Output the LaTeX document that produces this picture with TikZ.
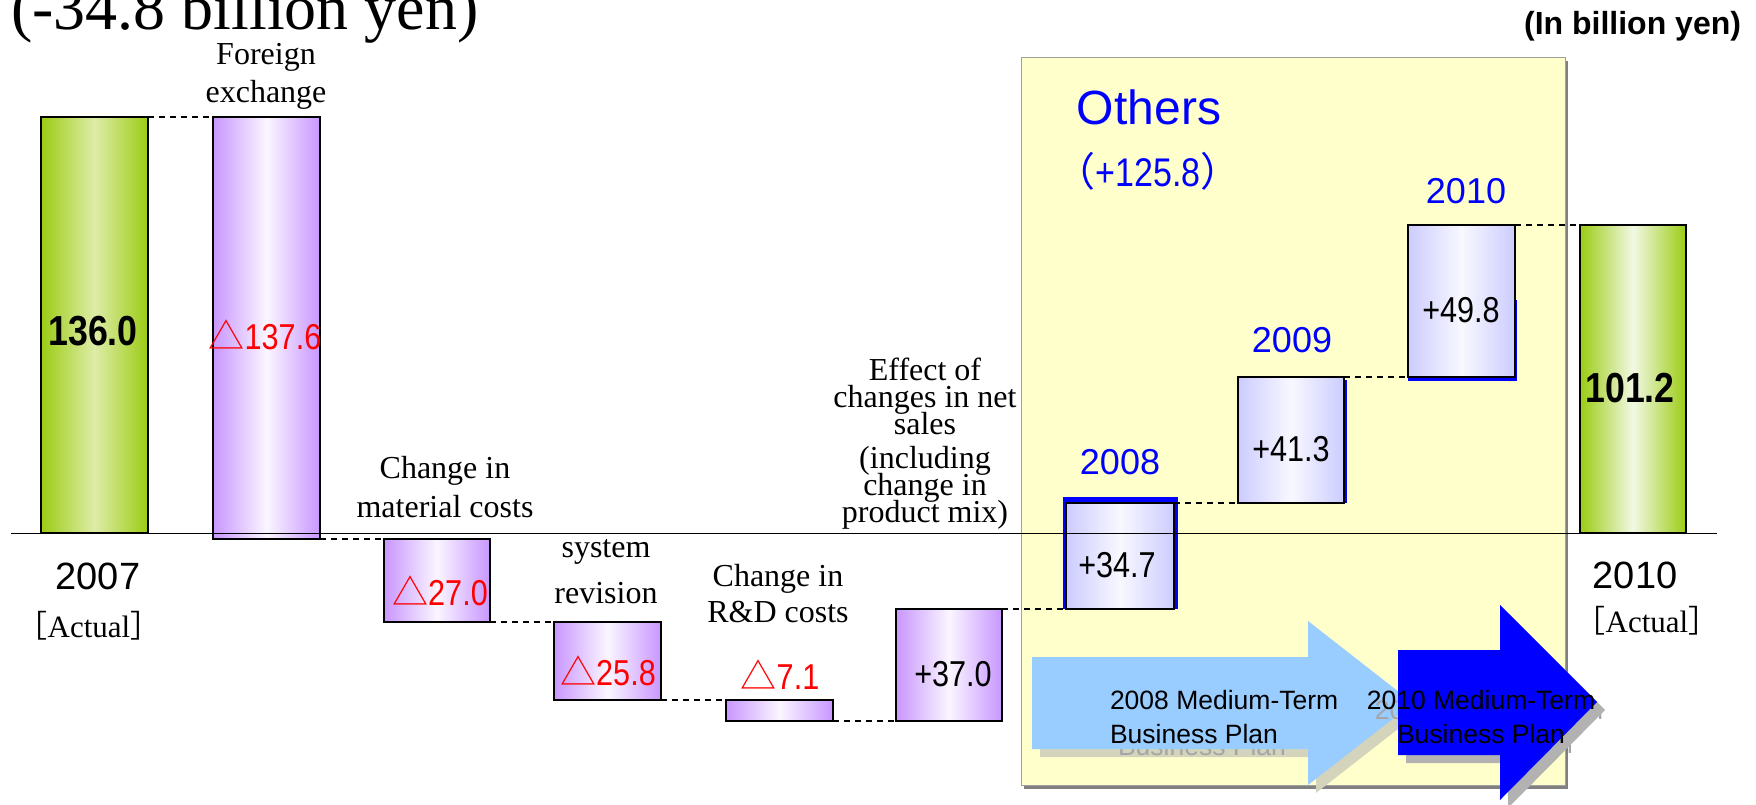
\documentclass[tikz,border=0pt]{standalone}
\usepackage{fontspec}
\setmainfont{Liberation Serif}
\newfontfamily\sansf{Liberation Sans}
\newfontfamily\numf{Liberation Sans}[FakeStretch=0.85]
\newfontfamily\cjkf{Noto Sans CJK JP}
\newcommand\stackc[2]{\vtop{\baselineskip=#1\lineskiplimit=-100pt\lineskip=0pt\halign{\hfil##\hfil\cr#2\crcr}}}
\newcommand\stackl[2]{\vtop{\baselineskip=#1\lineskiplimit=-100pt\lineskip=0pt\halign{##\hfil\cr#2\crcr}}}
\definecolor{gedge}{RGB}{155,204,20}
\definecolor{gmida}{RGB}{222,236,168}
\definecolor{gmidb}{RGB}{242,248,228}
\definecolor{pedge}{RGB}{200,150,255}
\definecolor{pmid}{RGB}{250,246,255}
\definecolor{ledge}{RGB}{204,204,255}
\definecolor{lmid}{RGB}{248,248,255}
\definecolor{yelbox}{RGB}{255,255,204}
\definecolor{arrlight}{RGB}{153,204,255}
\definecolor{arrdark}{RGB}{0,0,255}
\definecolor{shlight}{RGB}{212,212,188}
\definecolor{shdark}{RGB}{178,178,178}
\definecolor{ghostc}{RGB}{165,165,165}
\definecolor{boxline}{RGB}{160,160,160}
\definecolor{boxshadow}{RGB}{128,128,128}
\definecolor{txtblue}{RGB}{0,0,255}
\definecolor{txtred}{RGB}{255,0,0}
\begin{document}
\begin{tikzpicture}[x=1pt,y=-1pt,
  every node/.style={inner sep=0pt, outer sep=0pt},
  barbase/.style={draw=black, line width=1.5pt, anchor=north west},
  gbar/.style={barbase, left color=gedge, right color=gedge, middle color=gmida},
  gbarb/.style={barbase, left color=gedge, right color=gedge, middle color=gmidb},
  pbar/.style={barbase, left color=pedge, right color=pedge, middle color=pmid},
  lbar/.style={barbase, left color=ledge, right color=ledge, middle color=lmid},
  dashln/.style={line width=1.3pt, dash pattern=on 6pt off 5pt},
  lblf/.style={anchor=base, font=\fontsize{32}{38}\selectfont},
  redlbl/.style={text=txtred, font=\fontsize{36}{40}\selectfont},
  numlbl/.style={font=\numf\fontsize{36}{40}\selectfont},
  boldlbl/.style={font=\numf\bfseries\fontsize{42}{46}\selectfont},
  yearlbl/.style={text=txtblue, font=\sansf\fontsize{36}{40}\selectfont},
  axyear/.style={font=\sansf\fontsize{38}{42}\selectfont},
  actual/.style={anchor=base, font=\fontsize{31}{36}\selectfont},
  plantxt/.style={anchor=base, font=\sansf\fontsize{26.5}{30}\selectfont}
]
\useasboundingbox (0,0) rectangle (1756,805);

% ---- titles
\node[anchor=base west, font=\fontsize{64}{70}\selectfont] (title) at (11,30) {(-34.8 billion yen)};
\node[anchor=base east, font=\sansf\bfseries\fontsize{32}{36}\selectfont] (unit) at (1741,35) {(In billion yen)};

% ---- yellow "Others" box
\fill[boxshadow] (1024,61) rectangle (1568,789);
\node[draw=boxline, line width=1pt, fill=yelbox, anchor=north west,
      minimum width=544pt, minimum height=727pt] (obox) at (1021,58) {};
\node[text=txtblue, font=\sansf\fontsize{48}{52}\selectfont] (othtitle) at (1149,107) {Others};
\node[text=txtblue, font=\fontsize{40}{44}\selectfont] (othsum) at (1148,171)
  {{\cjkf （}{\numf +125.8}{\cjkf ）}};

% ---- plan arrows
\fill[shlight] (1040,665) -- (1316,665) -- (1316,629) -- (1421,711) -- (1316,793) -- (1316,757) -- (1040,757) -- cycle;
\node[plantxt, anchor=base west, text=ghostc] (gp08) at (1118,721) {\stackl{34pt}{2008 Medium-Term\cr Business Plan}};
\fill[arrlight] (1032,657) -- (1308,657) -- (1308,621) -- (1413,703) -- (1308,785) -- (1308,749) -- (1032,749) -- cycle;
\node[plantxt, text=ghostc] (gp10) at (1489,719) {\stackc{34pt}{2010 Medium-Term\cr Business Plan}};
\fill[shdark] (1406,658) -- (1508,658) -- (1508,613) -- (1605,710) -- (1508,808) -- (1508,763) -- (1406,763) -- cycle;
\fill[arrdark] (1398,650) -- (1500,650) -- (1500,605) -- (1597,702) -- (1500,800) -- (1500,755) -- (1398,755) -- cycle;
\node[plantxt, anchor=base west] (p08) at (1110,709) {\stackl{34pt}{2008 Medium-Term\cr Business Plan}};
\node[plantxt] (p10) at (1481,709) {\stackc{34pt}{2010 Medium-Term\cr Business Plan}};

% ---- blue backings of the plan bars
\fill[arrdark] (1063,497) rectangle (1178,609);
\fill[arrdark] (1241,380) rectangle (1347,503);
\fill[arrdark] (1408,300) rectangle (1517,381);

% ---- bars
\node[gbar, minimum width=107pt, minimum height=416pt] (g07) at (41,117) {};
\node[pbar, minimum width=107pt, minimum height=422pt] (fx) at (213,117) {};
\node[pbar, minimum width=106pt, minimum height=83pt] (mat) at (384,539) {};
\node[pbar, minimum width=107pt, minimum height=78pt] (shk) at (554,622) {};
\node[pbar, minimum width=107pt, minimum height=21pt] (rd) at (726,700) {};
\node[pbar, minimum width=106pt, minimum height=112pt] (sales) at (896,609) {};
\node[lbar, minimum width=108pt, minimum height=106pt] (y08) at (1066,503) {};
\node[lbar, minimum width=106pt, minimum height=126pt] (y09) at (1238,377) {};
\node[lbar, minimum width=107pt, minimum height=152pt] (y10) at (1408,225) {};
\node[gbarb, minimum width=106pt, minimum height=308pt] (g10) at (1580,225) {};

% ---- connectors
\draw[dashln] (g07.north east) -- (fx.north west);
\draw[dashln] (fx.south east) -- (mat.north west);
\draw[dashln] (mat.south east) -- (shk.north west);
\draw[dashln] (shk.south east) -- (rd.north west);
\draw[dashln] (rd.south east) -- (sales.south west);
\draw[dashln] (sales.north east) -- (y08.south west);
\draw[dashln] (y08.north east) -- (y09.south west);
\draw[dashln] (y09.north east) -- (y10.south west);
\draw[dashln] (y10.north east) -- (g10.north west);

% ---- axis line
\coordinate (axl) at (11,533);
\coordinate (axr) at (1717,533);
\draw[line width=1pt] (axl) -- (axr);

% ---- values
\node[boldlbl] (v07) at (93,331) {136.0};
\node[redlbl] (vfx) at (265,335) {{\cjkf △}{\numf 137.6}};
\node[redlbl] (vmat) at (440,591) {{\cjkf △}{\numf 27.0}};
\node[redlbl] (vshk) at (608,671) {{\cjkf △}{\numf 25.8}};
\node[redlbl] (vrd) at (780,675) {{\cjkf △}{\numf 7.1}};
\node[numlbl] (vsales) at (953,674) {+37.0};
\node[numlbl] (v08) at (1117,565) {+34.7};
\node[numlbl] (v09) at (1291,449) {+41.3};
\node[numlbl] (v10) at (1461,310) {+49.8};
\node[boldlbl] (vg10) at (1630,388) {101.2};

% ---- year labels inside box
\node[yearlbl] (yl08) at (1120,462) {2008};
\node[yearlbl] (yl09) at (1292,340) {2009};
\node[yearlbl] (yl10) at (1466,191) {2010};

% ---- category labels
\node[lblf] (lfx) at (266,64.5) {\stackc{38.5pt}{Foreign\cr exchange}};
\node[lblf] (lmat) at (445,478.5) {\stackc{39pt}{Change in\cr material costs}};
\node[lblf] (lshk) at (606,557) {\stackc{46pt}{system\cr revision}};
\node[lblf] (lrd) at (778,586.5) {\stackc{36pt}{Change in\cr R\&D costs}};
\node[lblf] (leff) at (925,380) {\stackc{27pt}{Effect of\cr changes in net\cr sales\cr\noalign{\vskip7pt}(including\cr change in\cr product mix)}};

% ---- axis years
\node[axyear] (ax07) at (98,576) {2007};
\node[actual] (ac07) at (89,637) {{\cjkf ［}Actual{\cjkf ］}};
\node[axyear] (ax10) at (1635,575) {2010};
\node[actual] (ac10) at (1647,632) {{\cjkf ［}Actual{\cjkf ］}};
\end{tikzpicture}
\end{document}
